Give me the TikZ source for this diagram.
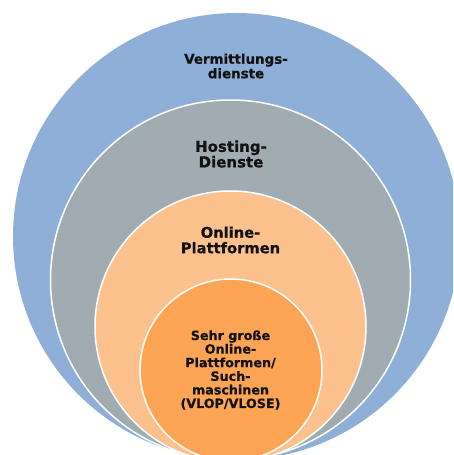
\documentclass[tikz,border=0pt]{standalone}
\usepackage{fontspec}
\setmainfont{DejaVu Sans}[BoldFeatures={FakeBold=0.6}]
\definecolor{ringblue}{RGB}{142,176,216}
\definecolor{ringgray}{RGB}{160,172,178}
\definecolor{ringpeach}{RGB}{253,193,141}
\definecolor{ringorange}{RGB}{253,165,84}
\definecolor{labelink}{RGB}{17,17,17}
\begin{document}
\begin{tikzpicture}[x=1pt,y=-1pt,
  ring/.style={circle, draw=white, line width=1.5pt, inner sep=0pt, outer sep=0pt},
  label/.style={align=center, text=labelink, inner sep=0pt}]
\useasboundingbox[fill=white] (0,0) rectangle (453,455);
\begin{scope}
\clip (0,0) rectangle (453,455);
% nested rings, all touching near the bottom edge
\node[ring, draw=none, fill=ringblue, minimum size=447pt] (vermittlung) at (236.5,236.5) {};
\node[ring, fill=ringgray, minimum size=360pt] (hosting) at (230.5,280) {};
\node[ring, fill=ringpeach, minimum size=271pt] (online) at (230.5,326.5) {};
\node[ring, fill=ringorange, minimum size=182pt] (vlop) at (231,370) {};
\end{scope}
% ring labels
\node[label, font=\fontsize{13.4}{14.5}\selectfont\bfseries] (tvermittlung) at (236,66) {Vermittlungs-\\dienste};
\node[label, font=\fontsize{15}{15.5}\selectfont\bfseries] (thosting) at (231,154) {Hosting-\\Dienste};
\node[label, font=\fontsize{14.7}{15.5}\selectfont\bfseries] (tonline) at (230.5,240) {Online-\\Plattformen};
\node[label, font=\fontsize{12.7}{13.6}\selectfont\bfseries] (tvlop) at (230.5,370) {Sehr große\\Online-\\Plattformen/\\Such-\\maschinen\\(VLOP/VLOSE)};
\end{tikzpicture}
\end{document}
